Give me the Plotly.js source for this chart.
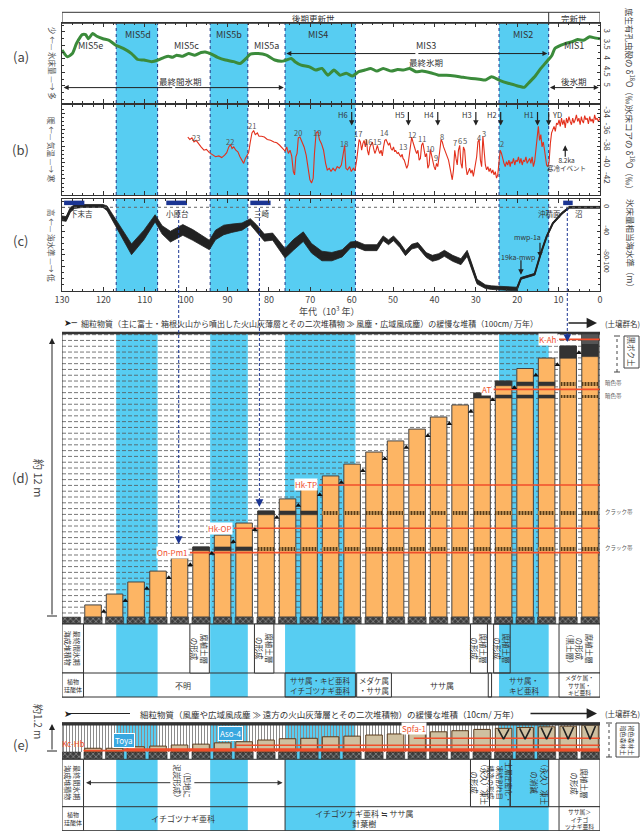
<!DOCTYPE html>
<html>
<head>
<meta charset="utf-8">
<script src="https://cdn.plot.ly/plotly-3.0.1.min.js"></script>
<style>
html,body{margin:0;padding:0;background:#fff}
#chart{width:642px;height:831px}
</style>
</head>
<body>
<div id="chart"></div>
<script>
// ---------- data ----------
// cold marine isotope stages (ka)
const coldStageName  = ['MIS5d', 'MIS5b', 'MIS4', 'MIS2'];
const coldStageOld   = [116.9, 94.2, 76.1, 24.4];
const coldStageYoung = [106.9, 85.1, 59.1, 12.4];

// (a) benthic foraminifera δ18O (‰)
const benthicAge = [130.0,128.7,127.5,126.5,125.1,124.3,123.6,122.6,121.6,120.1,118.6,117.0,115.2,113.2,111.7,110.2,108.3,106.8,105.3,104.3,103.3,102.3,100.8,99.4,97.9,96.4,95.4,93.9,92.4,90.5,88.5,87.0,85.5,84.5,82.6,80.6,78.6,76.6,74.6,73.7,72.2,70.2,68.7,67.2,65.7,64.3,62.8,61.3,59.8,58.3,56.8,55.4,53.9,52.4,50.4,48.9,47.5,46.0,44.5,43.0,41.0,39.0,37.1,35.1,33.1,31.1,29.2,27.7,26.2,24.4,22.2,20.3,19.3,18.3,17.3,15.8,14.3,12.9,11.6,10.9,9.4,8.4,6.9,5.4,4.0,2.5,1.5,0];
const benthicD18O = [3.67,3.92,3.80,3.43,3.10,3.10,3.25,3.06,3.16,3.25,3.31,3.49,3.61,3.80,4.02,4.04,4.10,4.04,3.94,3.90,3.94,3.86,3.90,3.80,3.86,3.76,3.74,3.82,3.94,4.04,4.10,4.17,3.98,3.82,3.80,3.86,4.04,4.08,3.98,4.10,4.23,4.29,4.41,4.35,4.60,4.41,4.60,4.53,4.63,4.47,4.41,4.35,4.45,4.35,4.45,4.39,4.41,4.35,4.47,4.45,4.51,4.60,4.60,4.63,4.68,4.72,4.75,4.78,4.66,4.78,4.90,4.98,5.02,5.05,4.90,4.66,4.35,4.10,3.86,3.61,3.49,3.43,3.37,3.28,3.31,3.18,3.21,3.25];

// (b) Greenland ice core δ18O (‰)
const iceAge = [99.6,99.1,98.6,98.1,97.6,97.1,96.4,95.7,95.1,94.4,93.6,92.9,92.1,91.4,90.7,90.2,89.7,89.3,88.9,88.5,88.0,87.5,87.0,86.5,86.1,85.7,85.3,84.9,84.5,84.1,83.7,83.3,82.8,82.4,81.8,81.1,80.4,79.6,78.8,78.1,77.4,76.6,76.1,75.7,75.3,74.9,74.5,74.1,73.8,73.5,73.2,72.9,72.5,72.0,71.5,71.0,70.5,70.1,69.7,69.3,69.0,68.6,68.2,67.8,67.3,66.8,66.3,65.9,65.4,65.0,64.5,64.0,63.5,63.0,62.5,62.0,61.7,61.4,61.0,60.5,60.1,59.6,59.2,
58.8,58.5,58.2,57.9,57.6,57.3,57.0,56.7,56.4,56.2,55.9,55.6,55.3,55.0,54.7,54.4,54.1,53.8,53.5,53.2,52.9,52.6,52.3,52.0,51.7,51.4,51.1,50.8,50.5,50.2,49.9,49.6,49.4,49.0,48.7,48.4,48.1,47.8,47.6,47.3,47.0,46.7,46.4,46.1,45.8,45.5,45.2,44.9,44.6,44.3,44.0,43.7,43.4,43.1,42.8,42.5,42.2,41.9,41.6,41.3,41.0,40.7,40.4,40.1,39.8,39.5,39.2,39.0,38.7,38.4,38.1,37.8,37.5,37.2,36.9,36.6,36.3,36.0,35.7,35.4,35.1,34.8,34.5,34.2,33.9,33.6,33.3,33.0,32.7,32.4,32.1,31.8,31.5,31.2,30.9,30.6,30.4,30.1,29.8,29.5,29.2,28.9,28.6,28.3,28.0,27.7,27.4,27.1,26.8,26.5,26.2,25.9,25.6,25.3,25.0,24.7,24.4,24.1,23.8,23.5,23.2,22.9,22.6,22.3,22.0,21.7,21.5,21.2,20.9,20.6,20.3,20.0,19.7,19.4,19.1,18.8,18.5,18.2,17.9,17.6,17.3,17.0,16.7,16.4,16.1,15.8,15.5,15.2,14.9,14.6,14.3,14.0,13.7,13.4,13.1,12.9,12.6,12.3,12.0,11.7,11.4,11.1,10.8,10.5,10.2,9.9,9.6,9.3,9.0,8.7,8.4,8.1,7.8,7.5,7.2,6.9,6.6,6.3,6.0,5.7,5.4,5.1,4.8,4.5,4.3,4.0,3.7,3.4,3.1,2.8,2.5,2.2,1.9,1.6,1.3,1.0,0.7,0.4,0.0];
const iceD18O = [-36.9,-37.2,-37.0,-37.5,-37.3,-37.7,-38.1,-38.5,-38.4,-38.8,-39.1,-39.3,-39.2,-39.4,-39.1,-38.8,-38.1,-37.8,-38.3,-38.1,-38.5,-38.7,-39.3,-39.8,-40.1,-39.5,-39.1,-38.8,-37.5,-36.4,-36.1,-36.6,-36.4,-36.8,-36.8,-36.9,-37.2,-37.3,-37.5,-37.6,-37.9,-38.3,-38.6,-38.1,-38.9,-38.5,-39.2,-41.1,-41.5,-39.3,-38.9,-37.0,-36.9,-37.5,-38.1,-39.1,-40.5,-42.1,-42.5,-41.9,-38.9,-36.4,-36.2,-37.2,-37.7,-38.5,-40.1,-40.9,-40.7,-41.1,-40.7,-41.0,-40.5,-40.7,-40.3,-38.5,-37.9,-40.7,-40.9,-40.5,-41.1,-40.7,-41.0,
-39.7,-38.1,-37.2,-37.5,-38.5,-37.7,-37.3,-38.1,-37.2,-38.5,-39.1,-38.1,-37.7,-37.5,-38.3,-38.9,-38.5,-37.9,-38.5,-38.9,-38.5,-39.2,-38.1,-37.3,-37.2,-37.7,-37.9,-37.6,-38.3,-38.5,-38.1,-38.7,-38.5,-38.9,-38.8,-39.1,-39.3,-39.0,-39.5,-39.7,-40.1,-40.7,-40.3,-39.3,-37.7,-36.9,-37.5,-38.1,-38.5,-38.9,-38.5,-39.7,-39.5,-37.9,-37.6,-38.5,-39.3,-38.9,-40.7,-40.3,-38.4,-39.1,-39.9,-40.5,-40.9,-40.1,-40.5,-39.9,-38.5,-37.2,-37.5,-38.1,-38.5,-38.9,-39.3,-39.7,-40.5,-41.5,-42.1,-40.9,-38.5,-39.5,-40.3,-38.5,-37.9,-40.1,-40.7,-38.1,-38.5,-40.5,-41.5,-41.1,-40.7,-41.3,-40.9,-41.7,-41.1,-40.5,-39.3,-37.5,-37.2,-39.7,-40.5,-36.8,-38.5,-40.3,-40.9,-40.5,-41.1,-40.7,-41.3,-40.9,-41.5,-41.1,-41.9,-41.5,-39.9,-38.5,-38.9,-39.7,-40.1,-40.5,-39.9,-40.3,-39.7,-40.5,-39.9,-40.1,-39.5,-40.3,-39.7,-39.9,-39.3,-40.1,-39.5,-40.3,-39.7,-39.9,-39.3,-40.1,-39.7,-39.5,-40.1,-39.3,-40.5,-39.9,-38.5,-36.8,-35.6,-37.3,-36.6,-38.1,-37.5,-38.5,-40.1,-40.3,-40.5,-39.9,-37.7,-36.4,-36.0,-35.6,-36.2,-35.2,-35.4,-34.8,-35.6,-34.6,-35.4,-34.8,-35.8,-34.6,-35.2,-34.4,-35.0,-35.4,-34.6,-35.2,-34.8,-34.2,-35.0,-34.6,-35.4,-34.4,-34.9,-35.2,-34.3,-34.8,-34.6,-35.3,-34.4,-35.0,-34.7,-35.2,-34.2,-34.8,-34.6,-35.0,-34.6];

// Greenland interstadial numbers
const gisNumber = ['23','22','21','20','19','18','17','16','15','14','13','12','11','10','9','8','7','6','5','4','3','2'];
const gisAge    = [97.6,89.5,84.0,73.0,68.5,61.8,58.4,56.1,53.9,52.1,47.5,45.5,42.9,41.2,39.7,38.3,35.1,33.8,32.6,29.2,28.0,23.7];
const gisLabelY = [-37.0,-37.5,-35.5,-36.4,-36.3,-37.7,-36.5,-37.4,-37.4,-36.4,-38.0,-36.6,-37.1,-38.3,-39.4,-36.8,-37.6,-37.3,-37.3,-37.0,-36.5,-37.7];

// Heinrich events and the Younger Dryas
const heinrichName = ['H6','H5','H4','H3','H2','H1','YD'];
const heinrichAge  = [60.0,46.3,39.2,30.0,24.0,15.1,12.4];

// (c) ice-volume equivalent sea level (m) with its spread
const seaAge   = [130.0,129.0,128.0,127.0,125.1,120.1,119.1,116.2,113.2,110.2,107.5,105.8,103.8,102.3,100.8,98.4,94.4,92.9,90.9,89.0,86.5,84.5,83.0,81.1,79.1,77.6,76.1,74.1,71.7,69.7,67.2,64.8,62.3,60.3,58.8,56.8,53.9,52.4,51.1,49.9,48.4,47.0,45.5,44.0,42.0,40.5,39.0,37.6,35.6,33.6,32.1,31.1,29.7,27.7,26.2,23.2,20.1,19.1,15.8,14.3,12.9,11.4,9.2,7.4,0];
const seaLevel = [-18.5,-19.6,-4.5,1.1,2.2,2.2,-1.7,-35.2,-70.5,-46.4,-18.5,-38.0,-49.2,-43.6,-38.0,-46.4,-63.2,-46.4,-38.0,-35.2,-32.4,-24.1,-35.2,-50.9,-49.2,-63.2,-77.2,-63.2,-49.2,-68.8,-81.7,-82.8,-77.2,-63.2,-62.1,-67.7,-67.7,-52.0,-58.7,-52.0,-63.2,-77.2,-66.0,-63.2,-80.0,-85.6,-82.8,-77.2,-85.6,-91.2,-77.2,-96.8,-124.7,-133.1,-134.8,-135.9,-137.1,-119.2,-112.4,-77.2,-49.2,-26.9,-10.1,0,0];
const seaError = [4,4,4,3,2.5,2.5,4,6,9,8,6,7,9,9,9,9,8,8,8,7,6,5,6,6,6,7,8,9,8,8,8,7,6,5,5,5,5,4,4,4,4,4,4,4,4,5,5,5,5,5,5,5,4,3,3,3,3,1.5,1.5,1.5,1.5,1.5,1.5,1.5,1.5];

// marine terraces / alluvial surfaces (ka)
const terraceName  = ['下末吉','小原台','三崎','沼'];
const terraceOld   = [129.5,104.8,84.5,8.9];
const terraceYoung = [124.6,99.8,79.6,6.6];
const terraceLineAge = [101.8,82.3,7.9];

// (d)(e) sediment columns, one per 5.2 ka
const columnAge  = [127.7,122.5,117.3,112.1,106.8,101.6,96.4,91.2,86.0,80.7,75.5,70.3,65.1,59.9,54.6,49.4,44.2,39.0,33.8,28.5,23.3,18.1,12.9,7.7,2.4];
const loamDepth  = [0,0.51,0.97,1.48,1.94,2.49,2.96,3.46,3.97,4.48,4.99,5.45,5.96,6.46,6.97,7.44,7.94,8.45,8.96,9.46,9.97,10.5,10.94,11.45,12.0];
const uplandDepth = [0,0.16,0.16,0.23,0.26,0.31,0.35,0.41,0.46,0.54,0.60,0.62,0.69,0.72,0.77,0.82,0.88,0.92,0.97,1.03,1.08,1.12,1.15,1.18,1.23];

// humic / dark layers in (d): column, base, top (m)
const darkCol  = [6,7,8,9,10,11,19,20,20,21,21,22,22,23,24];
const darkBase = [2.80,2.80,2.80,4.32,4.32,4.32,9.25,9.25,9.77,9.25,9.77,9.25,9.77,10.93,11.0];
const darkTop  = [2.96,2.96,2.96,4.48,4.48,4.48,9.46,9.38,9.97,9.38,9.93,9.38,9.93,11.45,12.0];
// crack bands (hatched)
const crackFirstCol = [9,12,23,23];
const crackBase = [2.80,4.32,9.25,9.77];
const crackTop  = [2.96,4.48,9.38,9.93];

// tephra in (d)
const tephraName  = ['On-Pm1','Hk-OP','Hk-TP','AT','K-Ah'];
const tephraDepth = [2.72,3.75,5.58,9.62,11.73];
const tephraFrom  = [99.1,88.5,67.9,25.7,9.9];
// tephra in (e)
const eTephraName  = ['Kc-Hb','Toya','Aso-4','Spfa-1'];
const eTephraDepth = [0.05,0.12,0.30,0.62];
const eTephraFrom  = [124.8,115.0,88.0,45.0];

// ---------- helpers ----------
const FONT = '"Noto Sans CJK JP","Noto Sans",sans-serif';
const BAND = '#57CDF2';
const ORANGE = '#FDB564';
const RED = '#F04E2B';
const INK = '#333';
const H = 831;
const py = p => 1 - p / H;
const X0 = 62 / 642, X1 = 600 / 642;

const shapes = [];
const ann = [];
function S(o) { shapes.push(Object.assign({xref: 'x', yref: 'paper', line: {color: INK, width: 1}}, o)); }
function A(o) {
  const f = Object.assign({family: FONT, size: 8, color: INK}, o.font || {});
  ann.push(Object.assign({showarrow: false, xanchor: 'center', yanchor: 'middle'}, o, {font: f}));
}

// ---------- axes ----------
function xAxis(anchor, extra) {
  return Object.assign({
    domain: [X0, X1], range: [130, 0], anchor: anchor, showgrid: false, zeroline: false,
    showline: true, mirror: 'ticks', linecolor: INK, linewidth: 1,
    ticks: 'inside', ticklen: 4, tickcolor: INK, tick0: 0, dtick: 10, showticklabels: false,
    minor: {dtick: 2.5, ticks: 'inside', ticklen: 2, tickcolor: INK}, fixedrange: true
  }, extra || {});
}
function yAxis(anchor, extra) {
  return Object.assign({
    anchor: anchor, side: 'right', showgrid: false, zeroline: false, showline: true, mirror: 'ticks',
    linecolor: INK, linewidth: 1, ticks: 'inside', ticklen: 3, tickcolor: INK, tickangle: 90,
    tickfont: {family: FONT, size: 8, color: '#444'}, fixedrange: true
  }, extra || {});
}
const hidden = {visible: false, fixedrange: true};

const layout = {
  width: 642, height: 831, margin: {l: 0, r: 0, t: 0, b: 0},
  paper_bgcolor: '#fff', plot_bgcolor: 'rgba(0,0,0,0)', showlegend: false,
  barmode: 'overlay', bargap: 0, font: {family: FONT, size: 8, color: INK},
  xaxis: xAxis('y'),
  yaxis: yAxis('x', {domain: [py(103), py(23.3)], range: [5.63, 2.68],
    tickvals: [3, 3.5, 4, 4.5, 5], ticktext: ['3', '3.5', '4', '4.5', '5'],
    minor: {dtick: 0.25, ticks: 'inside', ticklen: 2, tickcolor: INK}}),
  xaxis2: xAxis('y2'),
  yaxis2: yAxis('x2', {domain: [py(195), py(105)], range: [-43.95, -33.0],
    tickvals: [-34, -36, -38, -40, -42], ticktext: ['-34', '-36', '-38', '-40', '-42'],
    minor: {dtick: 0.5, ticks: 'inside', ticklen: 2, tickcolor: INK}}),
  xaxis3: xAxis('y3', {showticklabels: true, tickvals: [130,120,110,100,90,80,70,60,50,40,30,20,10,0],
    tickfont: {family: FONT, size: 9, color: '#444'}}),
  yaxis3: yAxis('x3', {domain: [py(291), py(199)], range: [-140.4, 13.9],
    tickvals: [0, -40, -80, -100], ticktext: ['0', '-40', '-80', '-100'],
    tickfont: {family: FONT, size: 6.8, color: '#444'},
    minor: {dtick: 10, ticks: 'inside', ticklen: 2, tickcolor: INK}}),
  xaxis4: Object.assign({domain: [X0, X1], range: [130, 0], anchor: 'y4'}, hidden),
  yaxis4: Object.assign({domain: [py(624), py(333)], range: [-0.296, 12.0], anchor: 'x4'}, hidden),
  xaxis5: Object.assign({domain: [X0, X1], range: [130, 0], anchor: 'y5'}, hidden),
  yaxis5: Object.assign({domain: [py(759.3), py(722.7)], range: [-0.35, 1.34], anchor: 'x5'}, hidden)
};

// ---------- background bands ----------
const bandRegions = [[23.3, 103], [105, 195], [199, 291], [333, 697], [722.7, 830.7]];
coldStageName.forEach((_, s) => {
  bandRegions.forEach(r => S({type: 'rect', x0: coldStageOld[s], x1: coldStageYoung[s], y0: py(r[1]), y1: py(r[0]),
    fillcolor: BAND, line: {width: 0}, layer: 'below'}));
  [coldStageOld[s], coldStageYoung[s]].forEach(e => {
    [[23.3, 103], [105, 195], [199, 291]].forEach(r => S({type: 'line', x0: e, x1: e, y0: py(r[1]), y1: py(r[0]),
      line: {color: '#1d3585', width: 1, dash: 'dot'}, layer: 'below'}));
  });
});

// epoch header strip
S({type: 'rect', x0: 130, x1: 0, y0: py(23.3), y1: py(12.3), fillcolor: 'rgba(0,0,0,0)'});
S({type: 'line', x0: 12.4, x1: 12.4, y0: py(23.3), y1: py(12.3)});
A({xref: 'x', yref: 'paper', x: 69.2, y: py(17.8), text: '後期更新世', font: {size: 8.5}});
A({xref: 'x', yref: 'paper', x: 6.2, y: py(17.8), text: '完新世', font: {size: 8.5}});

// zero sea level
S({type: 'line', xref: 'x3', yref: 'y3', x0: 130, x1: 0, y0: 0, y1: 0, line: {color: '#666', width: 1, dash: 'dot'}});

// (d) dashed depth guides
for (let y = 0.17; y < 12; y += 0.245) {
  S({type: 'line', xref: 'x4', yref: 'y4', x0: 130, x1: 0, y0: y, y1: y, line: {color: '#555', width: 0.8, dash: '4px,2px'}, layer: 'below'});
}

// (d) frame and rows
S({type: 'rect', x0: 130, x1: 0, y0: py(697), y1: py(333), fillcolor: 'rgba(0,0,0,0)'});
S({type: 'line', x0: 130, x1: 0, y0: py(333), y1: py(333), line: {color: INK, width: 2.5}});
S({type: 'line', x0: 130, x1: 0, y0: py(624), y1: py(624)});
S({type: 'line', x0: 130, x1: 0, y0: py(673), y1: py(673)});
// (e) frame and rows
S({type: 'rect', x0: 130, x1: 0, y0: py(830.7), y1: py(722.7), fillcolor: 'rgba(0,0,0,0)'});
S({type: 'rect', x0: 130, x1: 0, y0: py(725.5), y1: py(722.7), fillcolor: '#333', line: {width: 0}});
S({type: 'line', x0: 130, x1: 0, y0: py(759.3), y1: py(759.3)});
S({type: 'line', x0: 130, x1: 0, y0: py(806.7), y1: py(806.7)});

// label cells
function cell(a0, a1, top, bottom, fill) {
  S({type: 'rect', x0: a0, x1: a1, y0: py(bottom), y1: py(top), fillcolor: fill === undefined ? '#fff' : fill});
}
function vtext(age, ypx, text, size, extra) {
  A(Object.assign({xref: 'x', yref: 'paper', x: age, y: py(ypx), text: text, textangle: 90, font: {size: size || 7.5}}, extra || {}));
}
function htext(age, ypx, text, size, extra) {
  A(Object.assign({xref: 'x', yref: 'paper', x: age, y: py(ypx), text: text, font: {size: size || 7.5}}, extra || {}));
}

// (d) process row
cell(130, 124.8, 624, 673); vtext(127.4, 648.5, '最終間氷期<br>海成堆積物', 7);
cell(99.1, 94.4, 624, 673); vtext(96.75, 648.5, '腐植土層<br>の形成');
cell(83.5, 78.8, 624, 673); vtext(81.15, 648.5, '腐植土層<br>の形成');
cell(31.3, 27.2, 624, 673); vtext(29.25, 648.5, '腐植土層<br>の形成');
cell(25.7, 21.7, 624, 673, 'rgba(0,0,0,0)'); vtext(23.7, 648.5, '腐植土層<br>の形成');
cell(9.9, 0, 624, 673); vtext(4.95, 648.5, '腐植土層<br>の形成<br>（黒土層）', 7.5);
// (d) phytolith row
cell(130, 124.8, 673, 697); htext(127.4, 685, '植物<br>珪酸体', 6);
htext(100.8, 685, '不明', 8);
cell(76.1, 59.1, 673, 697, 'rgba(0,0,0,0)'); htext(67.6, 685, 'ササ属・キビ亜科<br>イチゴツナギ亜科', 7.5);
cell(58.8, 50.4, 673, 697); htext(54.6, 685, 'メダケ属<br>・ササ属', 7.5);
htext(38.1, 685, 'ササ属', 8);
cell(27.0, 26.2, 673, 697, 'rgba(0,0,0,0)');
htext(18.3, 685, 'ササ属・<br>キビ亜科', 7.5);
cell(9.9, 0, 673, 697); htext(4.95, 685, 'メダケ属・<br>ササ属・<br>キビ亜科', 5.8);

// (e) process row
cell(130, 124.8, 759.3, 806.7); vtext(127.4, 783, '最終間氷期<br>海成堆積物', 7);
S({type: 'line', x0: 76.1, x1: 76.1, y0: py(806.7), y1: py(759.3)});
A({xref: 'x', yref: 'paper', axref: 'x', ayref: 'paper', x: 124.2, y: py(782.7), ax: 100.8, ay: py(782.7), showarrow: true, arrowhead: 2, arrowsize: 1, arrowwidth: 1, arrowcolor: INK, text: ''});
A({xref: 'x', yref: 'paper', axref: 'x', ayref: 'paper', x: 76.7, y: py(782.7), ax: 100.8, ay: py(782.7), showarrow: true, arrowhead: 2, arrowsize: 1, arrowwidth: 1, arrowcolor: INK, text: ''});
vtext(100.8, 783, '（凹地に<br>泥炭形成）', 7.5, {bgcolor: '#fff'});
cell(31.3, 26.7, 759.3, 806.7); vtext(29.0, 783, '（永久）凍土<br>の形成', 7.5);
cell(26.7, 21.7, 759.3, 806.7, 'rgba(0,0,0,0)'); vtext(24.2, 783, '土層圧密化・<br>凍結割れ目<br>構造の形成', 6.8);
cell(21.7, 12.4, 759.3, 806.7, 'rgba(0,0,0,0)'); vtext(14.5, 783, '（永久）凍土<br>の消滅', 7.5);
cell(9.9, 0, 759.3, 806.7); vtext(4.95, 783, '腐植土層<br>の形成', 7.5);
// (e) phytolith row
cell(130, 124.8, 806.7, 830.7); htext(127.4, 818.7, '植物<br>珪酸体', 6);
htext(100.8, 818.7, 'イチゴツナギ亜科', 8);
S({type: 'line', x0: 76.1, x1: 76.1, y0: py(830.7), y1: py(806.7)});
htext(56.8, 818.7, 'イチゴツナギ亜科 ≒ ササ属<br>針葉樹', 8);
cell(9.9, 0, 806.7, 830.7); htext(4.95, 818.7, 'ササ属＞<br>イチゴ<br>ツナギ亜科', 5.8);

// ---------- traces ----------
const traces = [];
// (a)
traces.push({type: 'scatter', x: benthicAge, y: benthicD18O, xaxis: 'x', yaxis: 'y', mode: 'lines',
  line: {color: '#3B8B3B', width: 3, shape: 'spline', smoothing: 0.6}, hoverinfo: 'skip'});
// (b)
traces.push({type: 'scatter', x: iceAge, y: iceD18O, xaxis: 'x2', yaxis: 'y2', mode: 'lines',
  line: {color: '#E3301C', width: 1.1}, hoverinfo: 'skip'});
// (c) sea level band
traces.push({type: 'scatter', x: seaAge, y: seaLevel.map((v, i) => v + seaError[i]), xaxis: 'x3', yaxis: 'y3',
  mode: 'lines', line: {color: '#222', width: 0.8}, hoverinfo: 'skip'});
traces.push({type: 'scatter', x: seaAge, y: seaLevel.map((v, i) => v - seaError[i]), xaxis: 'x3', yaxis: 'y3',
  mode: 'lines', fill: 'tonexty', fillcolor: '#222', line: {color: '#222', width: 0.8}, hoverinfo: 'skip'});
traces.push({type: 'scatter', x: seaAge, y: seaLevel, xaxis: 'x3', yaxis: 'y3', mode: 'lines',
  line: {color: '#222', width: 2}, hoverinfo: 'skip'});
// terrace markers
const tx = [], ty = [];
terraceOld.forEach((o, i) => { tx.push(o, terraceYoung[i], null); ty.push(7.4, 7.4, null); });
traces.push({type: 'scatter', x: tx, y: ty, xaxis: 'x3', yaxis: 'y3', mode: 'lines',
  line: {color: '#1B3593', width: 4.5}, hoverinfo: 'skip'});

// (d) gravel base row
traces.push({type: 'bar', x: columnAge, y: columnAge.map(() => 0.29), base: -0.293, width: 4.4,
  xaxis: 'x4', yaxis: 'y4', marker: {color: '#3d3d3d', line: {color: '#222', width: 0.5},
  pattern: {shape: 'x', fgcolor: '#cfcfcf', bgcolor: '#3d3d3d', size: 4, solidity: 0.2}}, hoverinfo: 'skip'});
// (d) loam columns
const dCols = columnAge.slice(1), dDepth = loamDepth.slice(1);
traces.push({type: 'bar', x: dCols, y: dDepth, width: 4.0, xaxis: 'x4', yaxis: 'y4',
  marker: {color: ORANGE, line: {color: '#444', width: 1}}, hoverinfo: 'skip'});
// crack bands
const cx = [], cb = [], ch = [];
crackFirstCol.forEach((c0, k) => { for (let c = c0; c < columnAge.length; c++) { cx.push(columnAge[c]); cb.push(crackBase[k]); ch.push(crackTop[k] - crackBase[k]); } });
traces.push({type: 'bar', x: cx, y: ch, base: cb, width: 4.0, xaxis: 'x4', yaxis: 'y4',
  marker: {color: '#7a5628', line: {width: 0}, pattern: {shape: '|', fgcolor: '#5a3a14', bgcolor: '#c89a5a', size: 3, solidity: 0.5}}, hoverinfo: 'skip'});
// dark humic layers
traces.push({type: 'bar', x: darkCol.map(c => columnAge[c]), y: darkTop.map((t, i) => t - darkBase[i]), base: darkBase,
  width: 4.0, xaxis: 'x4', yaxis: 'y4', marker: {color: '#333', line: {color: '#333', width: 0.5}}, hoverinfo: 'skip'});
traces.push({type: 'bar', x: [columnAge[24]], y: [0.45], base: [11.55], width: 4.0, xaxis: 'x4', yaxis: 'y4',
  marker: {color: '#555', line: {width: 0}}, hoverinfo: 'skip'});
// tephra lines (d)
const trx = [], tryy = [];
tephraDepth.forEach((d, i) => { trx.push(tephraFrom[i], 0, null); tryy.push(d, d, null); });
traces.push({type: 'scatter', x: trx, y: tryy, xaxis: 'x4', yaxis: 'y4', mode: 'lines',
  line: {color: RED, width: 1.6}, hoverinfo: 'skip'});
// growth markers
traces.push({type: 'scatter', x: dCols.slice(0, 23).map(a => a - 2.6), y: dDepth.slice(0, 23).map(d => d - 0.28),
  xaxis: 'x4', yaxis: 'y4', mode: 'markers', marker: {symbol: 'triangle-up', size: 5, color: '#111'}, hoverinfo: 'skip'});

// (e) hatched background
traces.push({type: 'bar', x: [65], y: [1.34], base: 0, width: 130, xaxis: 'x5', yaxis: 'y5',
  marker: {color: 'rgba(0,0,0,0)', line: {width: 0}, pattern: {shape: '|', fgcolor: '#8c8c8c', size: 3, solidity: 0.35}}, hoverinfo: 'skip'});
// (e) gravel base
traces.push({type: 'bar', x: columnAge, y: columnAge.map(() => 0.33), base: -0.345, width: 4.4,
  xaxis: 'x5', yaxis: 'y5', marker: {color: '#3d3d3d', line: {color: '#222', width: 0.5},
  pattern: {shape: 'x', fgcolor: '#cfcfcf', bgcolor: '#3d3d3d', size: 4, solidity: 0.2}}, hoverinfo: 'skip'});
// (e) soil columns
traces.push({type: 'bar', x: columnAge.slice(1), y: uplandDepth.slice(1), width: 4.0, xaxis: 'x5', yaxis: 'y5',
  marker: {color: '#CFC0A0', line: {color: '#5a3a1c', width: 1}}, hoverinfo: 'skip'});
// (e) tephra lines
const etx = [], ety = [];
eTephraDepth.forEach((d, i) => { etx.push(eTephraFrom[i], 0, null); ety.push(d, d, null); });
traces.push({type: 'scatter', x: etx, y: ety, xaxis: 'x5', yaxis: 'y5', mode: 'lines',
  line: {color: RED, width: 1.6}, hoverinfo: 'skip'});
// (e) frost wedges
const wx = [], wy = [];
[20, 21, 22, 23, 24].forEach(c => { const a = columnAge[c], t = uplandDepth[c] - 0.04; wx.push(a + 1.3, a, a - 1.3, null); wy.push(t, 0.58, t, null); });
traces.push({type: 'scatter', x: wx, y: wy, xaxis: 'x5', yaxis: 'y5', mode: 'lines',
  line: {color: '#222', width: 1.6}, hoverinfo: 'skip'});

// ---------- annotations ----------
// panel tags
[['(a)', 57], ['(b)', 149], ['(c)', 240], ['(d)', 477], ['(e)', 744]].forEach(p =>
  A({xref: 'paper', yref: 'paper', x: 21 / 642, y: py(p[1]), text: p[0], font: {size: 13, color: '#444'}}));

// side titles
const sideL = [['少 ←— 氷床量 —→ 多', 63], ['暖 ←— 気温 —→ 寒', 150], ['高 ←— 海水準 —→ 低', 245]];
sideL.forEach(s => A({xref: 'paper', yref: 'paper', x: 52 / 642, y: py(s[1]), text: s[0], textangle: 90, font: {size: 7.5, color: '#555'}}));
const sideR = [['底生有孔虫殻の δ<sup>18</sup>O（‰）', 60], ['氷床コアの δ<sup>18</sup>O（‰）', 150], ['氷床量相当海水準（m）', 245]];
sideR.forEach(s => A({xref: 'paper', yref: 'paper', x: 631 / 642, y: py(s[1]), text: s[0], textangle: 90, font: {size: 8.5, color: '#444'}}));

// (a) stage labels and periods
const stageLabel = ['MIS5e','MIS5d','MIS5c','MIS5b','MIS5a','MIS4','MIS3','MIS2','MIS1'];
const stageLabelAge = [123.1,111.7,99.8,89.7,80.6,68.2,42.0,18.5,6.4];
const stageLabelY = [3.49,3.10,3.49,3.10,3.49,3.10,3.49,3.10,3.49];
stageLabel.forEach((t, i) => A({xref: 'x', yref: 'y', x: stageLabelAge[i], y: stageLabelY[i], text: t, font: {size: 9, color: '#333'}}));
function dblArrow(xr, yr, a, b, y) {
  const m = (a + b) / 2;
  [a, b].forEach(e => A({xref: xr, yref: yr, axref: xr, ayref: yr, x: e, y: y, ax: m, ay: y, showarrow: true,
    arrowhead: 2, arrowsize: 1, arrowwidth: 1, arrowcolor: '#222', text: ''}));
}
dblArrow('x', 'y', 129.6, 76.4, 5.06);
A({xref: 'x', yref: 'y', x: 101.3, y: 4.82, text: '最終間氷期', font: {size: 8.5}});
dblArrow('x', 'y', 75.8, 12.7, 3.80);
A({xref: 'x', yref: 'y', x: 42.0, y: 4.10, text: '最終氷期', font: {size: 8.5}});
dblArrow('x', 'y', 12.1, 0.3, 5.06);
A({xref: 'x', yref: 'y', x: 6.2, y: 4.82, text: '後氷期', font: {size: 8.5}});

// (b) events
gisNumber.forEach((t, i) => A({xref: 'x2', yref: 'y2', x: gisAge[i], y: gisLabelY[i], text: t, font: {size: 7.5, color: '#555'}}));
heinrichName.forEach((t, i) => {
  A({xref: 'x2', yref: 'y2', x: heinrichAge[i], y: -35.5, ax: 0, ay: -15, showarrow: true, arrowhead: 2,
    arrowsize: 0.9, arrowwidth: 1.2, arrowcolor: '#222', text: ''});
  const right = t === 'YD';
  A({xref: 'x2', yref: 'y2', x: heinrichAge[i] + (right ? -0.3 : 0.4), y: -34.2, xanchor: right ? 'left' : 'right',
    text: t, font: {size: 7.5, color: '#333'}});
});
A({xref: 'x2', yref: 'y2', x: 8.4, y: -37.9, ax: 0, ay: 13, showarrow: true, arrowhead: 2, arrowsize: 0.9,
  arrowwidth: 1.2, arrowcolor: '#222', text: ''});
A({xref: 'x2', yref: 'y2', x: 8.2, y: -40.2, text: '8.2ka<br>寒冷イベント', font: {size: 6.5, color: '#333'}});

// (c) labels
const terraceLabelAge = [125.2, 102.1, 81.7, 5.0];
terraceName.forEach((t, i) => A({xref: 'x3', yref: 'y3', x: terraceLabelAge[i], y: -11, text: t, font: {size: 7.5}}));
A({xref: 'x3', yref: 'y3', x: 12.1, y: -11, text: '沖積面', font: {size: 7.5}});
A({xref: 'x3', yref: 'y3', x: 17.6, y: -50, text: 'mwp-1a', font: {size: 7}});
A({xref: 'x3', yref: 'y3', x: 14.5, y: -84, ax: 0, ay: -16, showarrow: true, arrowhead: 2, arrowsize: 0.9, arrowwidth: 1.2, arrowcolor: '#222', text: ''});
A({xref: 'x3', yref: 'y3', x: 19.9, y: -84, text: '19ka-mwp', font: {size: 7}});
A({xref: 'x3', yref: 'y3', x: 19.1, y: -113, ax: 0, ay: -16, showarrow: true, arrowhead: 2, arrowsize: 0.9, arrowwidth: 1.2, arrowcolor: '#222', text: ''});
A({xref: 'paper', yref: 'paper', x: 330 / 642, y: py(311), text: '年代（10<sup>3</sup> 年）', font: {size: 9, color: '#444'}});

// terrace guide lines into (d)
const guideEnd = [538, 501, 336];
terraceLineAge.forEach((a, i) => {
  S({type: 'line', x0: a, x1: a, y0: py(guideEnd[i]), y1: py(208), line: {color: '#1B3593', width: 1, dash: '3px,2px'}});
  A({xref: 'x', yref: 'paper', x: a, y: py(guideEnd[i] + 6), ax: 0, ay: -8, showarrow: true, arrowhead: 2,
    arrowsize: 1.3, arrowwidth: 1.2, arrowcolor: '#1B3593', text: ''});
});

// (d) header
A({xref: 'paper', yref: 'paper', x: 62 / 642, y: py(323), xanchor: 'left', text: '➤─', font: {family: 'DejaVu Sans', size: 9, color: '#222'}});
A({xref: 'paper', yref: 'paper', x: 79 / 642, y: py(323), xanchor: 'left',
  text: '細粒物質（主に富士・箱根火山から噴出した火山灰薄層とその二次堆積物 ≫ 風塵・広域風成塵）の緩慢な堆積（100cm/ 万年）',
  font: {size: 8, color: '#333'}});
A({xref: 'paper', yref: 'paper', x: 597 / 642, y: py(323), ax: -30, ay: 0, showarrow: true, arrowhead: 2, arrowsize: 1.6, arrowwidth: 1.3, arrowcolor: '#222', text: ''});
A({xref: 'paper', yref: 'paper', x: 622 / 642, y: py(323), text: '(土壌群名)', font: {size: 7.5}});
// (d) depth scale
A({xref: 'paper', yref: 'paper', x: 52 / 642, y: py(338), ax: 0, ay: 278, showarrow: true, arrowhead: 2, arrowsize: 1.2, arrowwidth: 1, arrowcolor: '#222', text: ''});
shapes.push({type: 'line', xref: 'paper', yref: 'paper', x0: 47 / 642, x1: 57 / 642, y0: py(616), y1: py(616), line: {color: '#222', width: 1}});
A({xref: 'paper', yref: 'paper', x: 39 / 642, y: py(478), text: '約 12 m', textangle: 90, font: {size: 11, color: '#444'}});
// (d) tephra labels
tephraName.forEach((t, i) => A({xref: 'x4', yref: 'y4', x: tephraFrom[i] + 0.3, y: tephraDepth[i], xanchor: 'right',
  text: t, bgcolor: '#fff', borderpad: 0, font: {size: 8, color: RED}}));
// (d) right side soil labels
shapes.push({type: 'line', xref: 'paper', yref: 'paper', x0: 617 / 642, x1: 617 / 642, y0: py(372), y1: py(336), line: {color: '#444', width: 1, dash: 'dot'}});
shapes.push({type: 'line', xref: 'paper', yref: 'paper', x0: 614 / 642, x1: 620 / 642, y0: py(336), y1: py(336), line: {color: '#444', width: 1}});
shapes.push({type: 'line', xref: 'paper', yref: 'paper', x0: 614 / 642, x1: 620 / 642, y0: py(372), y1: py(372), line: {color: '#444', width: 1}});
shapes.push({type: 'rect', xref: 'paper', yref: 'paper', x0: 624 / 642, x1: 639 / 642, y0: py(368), y1: py(336), line: {color: '#444', width: 1}});
A({xref: 'paper', yref: 'paper', x: 631.5 / 642, y: py(352), text: '黒ボク土', textangle: 90, font: {size: 7.5}});
[['暗色帯', 383], ['暗色帯', 396], ['クラック帯', 512], ['クラック帯', 548]].forEach(l =>
  A({xref: 'paper', yref: 'paper', x: 603 / 642, y: py(l[1]), xanchor: 'left', text: l[0], font: {size: 5.5, color: '#555'}}));

// (e) header
A({xref: 'paper', yref: 'paper', x: 62 / 642, y: py(713.5), xanchor: 'left', text: '➤', font: {family: 'DejaVu Sans', size: 9, color: '#222'}});
shapes.push({type: 'line', xref: 'paper', yref: 'paper', x0: 68 / 642, x1: 130 / 642, y0: py(713.5), y1: py(713.5), line: {color: '#222', width: 1}});
A({xref: 'paper', yref: 'paper', x: 330 / 642, y: py(713.5),
  text: '細粒物質（風塵や広域風成塵 ≫ 遠方の火山灰薄層とその二次堆積物）の緩慢な堆積（10cm/ 万年）',
  font: {size: 8.5, color: '#333'}});
A({xref: 'paper', yref: 'paper', x: 597 / 642, y: py(713.5), ax: -68, ay: 0, showarrow: true, arrowhead: 2, arrowsize: 1.6, arrowwidth: 1.3, arrowcolor: '#222', text: ''});
A({xref: 'paper', yref: 'paper', x: 622 / 642, y: py(713.5), text: '(土壌群名)', font: {size: 7.5}});
// (e) depth scale
A({xref: 'paper', yref: 'paper', x: 52 / 642, y: py(724), ax: 0, ay: 27, showarrow: true, arrowhead: 2, arrowsize: 1.2, arrowwidth: 1, arrowcolor: '#222', text: ''});
shapes.push({type: 'line', xref: 'paper', yref: 'paper', x0: 47 / 642, x1: 57 / 642, y0: py(751), y1: py(751), line: {color: '#222', width: 1}});
A({xref: 'paper', yref: 'paper', x: 39 / 642, y: py(721), text: '約1.2 m', textangle: 90, font: {size: 10, color: '#444'}});
// (e) tephra labels
A({xref: 'x5', yref: 'y5', x: 127.2, y: 0.36, text: 'Kc-Hb', font: {size: 8, color: RED}});
A({xref: 'x5', yref: 'y5', x: 115.0, y: 0.54, text: 'Toya', bgcolor: '#3AA8E0', bordercolor: '#fff', borderpad: 1, font: {size: 8, color: '#fff'}});
A({xref: 'x5', yref: 'y5', x: 89.4, y: 0.83, text: 'Aso-4', bgcolor: '#3AA8E0', bordercolor: '#fff', borderpad: 1, font: {size: 8, color: '#fff'}});
A({xref: 'x5', yref: 'y5', x: 45.0, y: 1.06, text: 'Spfa-1', bgcolor: '#fff', borderpad: 0, font: {size: 8, color: RED}});
// (e) right side soil labels
shapes.push({type: 'line', xref: 'paper', yref: 'paper', x0: 609 / 642, x1: 609 / 642, y0: py(757), y1: py(723), line: {color: '#444', width: 1, dash: 'dot'}});
shapes.push({type: 'line', xref: 'paper', yref: 'paper', x0: 606 / 642, x1: 612 / 642, y0: py(723), y1: py(723), line: {color: '#444', width: 1}});
shapes.push({type: 'line', xref: 'paper', yref: 'paper', x0: 606 / 642, x1: 612 / 642, y0: py(757), y1: py(757), line: {color: '#444', width: 1}});
shapes.push({type: 'rect', xref: 'paper', yref: 'paper', x0: 616 / 642, x1: 639 / 642, y0: py(757), y1: py(723), line: {color: '#444', width: 1}});
A({xref: 'paper', yref: 'paper', x: 627.5 / 642, y: py(740), text: '褐色森林土<br>暗色森林土', textangle: 90, font: {size: 6}});

layout.shapes = shapes;
layout.annotations = ann;

Plotly.newPlot('chart', traces, layout, {displayModeBar: false, staticPlot: true});
</script>
</body>
</html>
